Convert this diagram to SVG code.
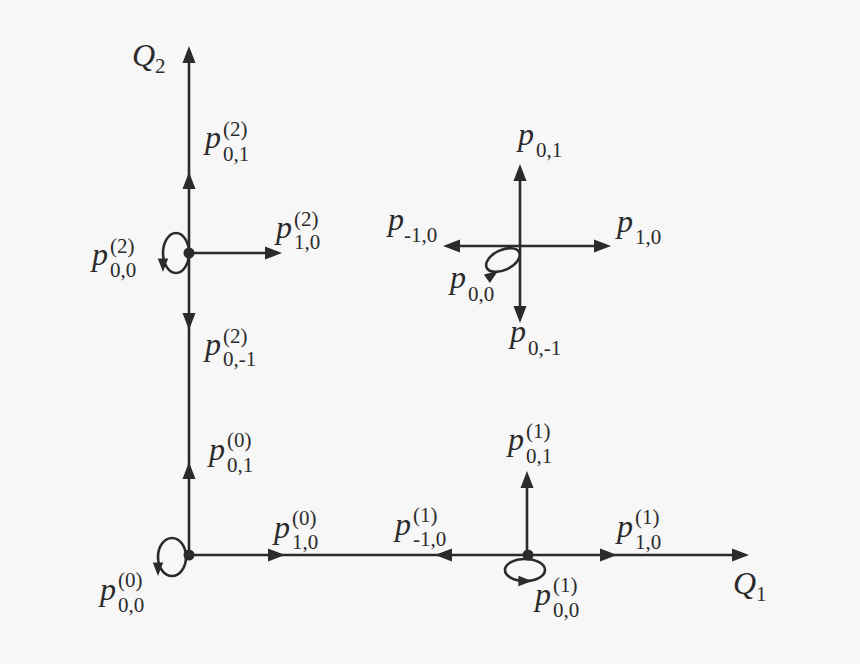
<svg xmlns="http://www.w3.org/2000/svg" xmlns:xlink="http://www.w3.org/1999/xlink" width="860" height="664" viewBox="0 0 860 664">
<style>
.l{stroke:#2b2b2b;stroke-width:2.6;fill:none}
.h{fill:#2b2b2b}
text{font-family:"Liberation Serif","DejaVu Serif",serif;fill:#2b2b2b}
.p{font-style:italic;font-size:32px}
.s{font-size:21px}
</style>
<defs><path id="ah" class="h" d="M0,0 L-17,-6.5 L-17,6.5 Z"/></defs>
<rect width="860" height="664" fill="#f7f7f7"/>
<g id="connectors">
<line class="l" x1="189" y1="555" x2="189" y2="60"/>
<line class="l" x1="189" y1="555" x2="735" y2="555"/>
<line class="l" x1="189" y1="253" x2="268" y2="253"/>
<line class="l" x1="527" y1="555" x2="527" y2="485"/>
<line class="l" x1="520" y1="180" x2="520" y2="308"/>
<line class="l" x1="458" y1="246" x2="598" y2="246"/>
<ellipse class="l" cx="176" cy="253" rx="13" ry="20"/>
<ellipse class="l" cx="172" cy="557" rx="14" ry="19"/>
<ellipse class="l" cx="525" cy="570" rx="20" ry="11"/>
<ellipse class="l" cx="503" cy="260" rx="18" ry="10" transform="rotate(-25 503 260)"/>
<use xlink:href="#ah" transform="translate(189,46) rotate(-90)"/>
<use xlink:href="#ah" transform="translate(189,172) rotate(-90)"/>
<use xlink:href="#ah" transform="translate(189,330) rotate(90)"/>
<use xlink:href="#ah" transform="translate(189,462) rotate(-90)"/>
<use xlink:href="#ah" transform="translate(282,253)"/>
<use xlink:href="#ah" transform="translate(285,555)"/>
<use xlink:href="#ah" transform="translate(435,555) rotate(180)"/>
<use xlink:href="#ah" transform="translate(617,555)"/>
<use xlink:href="#ah" transform="translate(749,555)"/>
<use xlink:href="#ah" transform="translate(527,471) rotate(-90)"/>
<use xlink:href="#ah" transform="translate(520,164) rotate(-90)"/>
<use xlink:href="#ah" transform="translate(520,323) rotate(90)"/>
<use xlink:href="#ah" transform="translate(443,246) rotate(180)"/>
<use xlink:href="#ah" transform="translate(611,246)"/>
<use xlink:href="#ah" transform="translate(163,272) rotate(90) scale(0.8)"/>
<use xlink:href="#ah" transform="translate(158,576) rotate(90) scale(0.8)"/>
<use xlink:href="#ah" transform="translate(532,581) scale(0.8)"/>
<use xlink:href="#ah" transform="translate(498,271) rotate(-35) scale(0.8)"/>
</g>
<g id="nodes">
<circle class="h" cx="189" cy="253" r="5.5"/>
<circle class="h" cx="189" cy="555" r="5.5"/>
<circle class="h" cx="528" cy="555" r="5.5"/>
</g>
<g id="labels">
<text class="p" x="132" y="66">Q<tspan class="s" font-style="normal" dy="7">2</tspan></text>
<text class="p" x="733" y="594">Q<tspan class="s" font-style="normal" dy="7">1</tspan></text>
<g><text class="p" x="205" y="148">p</text><text class="s" x="223" y="136">(2)</text><text class="s" x="223" y="161">0,1</text></g>
<g><text class="p" x="276" y="238">p</text><text class="s" x="294" y="226">(2)</text><text class="s" x="294" y="249">1,0</text></g>
<g><text class="p" x="92" y="265">p</text><text class="s" x="110" y="253">(2)</text><text class="s" x="110" y="277">0,0</text></g>
<g><text class="p" x="205" y="355">p</text><text class="s" x="223" y="343">(2)</text><text class="s" x="223" y="366">0,-1</text></g>
<g><text class="p" x="209" y="460">p</text><text class="s" x="227" y="447">(0)</text><text class="s" x="227" y="472">0,1</text></g>
<g><text class="p" x="274" y="538">p</text><text class="s" x="292" y="525">(0)</text><text class="s" x="292" y="549">1,0</text></g>
<g><text class="p" x="395" y="535">p</text><text class="s" x="413" y="522">(1)</text><text class="s" x="413" y="546">-1,0</text></g>
<g><text class="p" x="508" y="450">p</text><text class="s" x="526" y="438">(1)</text><text class="s" x="526" y="463">0,1</text></g>
<g><text class="p" x="617" y="537">p</text><text class="s" x="635" y="524">(1)</text><text class="s" x="635" y="549">1,0</text></g>
<g><text class="p" x="100" y="600">p</text><text class="s" x="118" y="587">(0)</text><text class="s" x="118" y="612">0,0</text></g>
<g><text class="p" x="535" y="605">p</text><text class="s" x="553" y="592">(1)</text><text class="s" x="553" y="617">0,0</text></g>
<g><text class="p" x="518" y="145">p</text><text class="s" x="536" y="157">0,1</text></g>
<g><text class="p" x="388" y="230">p</text><text class="s" x="404" y="242">-1,0</text></g>
<g><text class="p" x="617" y="232">p</text><text class="s" x="635" y="244">1,0</text></g>
<g><text class="p" x="450" y="288">p</text><text class="s" x="468" y="301">0,0</text></g>
<g><text class="p" x="510" y="342">p</text><text class="s" x="528" y="355">0,-1</text></g>
</g>
</svg>
